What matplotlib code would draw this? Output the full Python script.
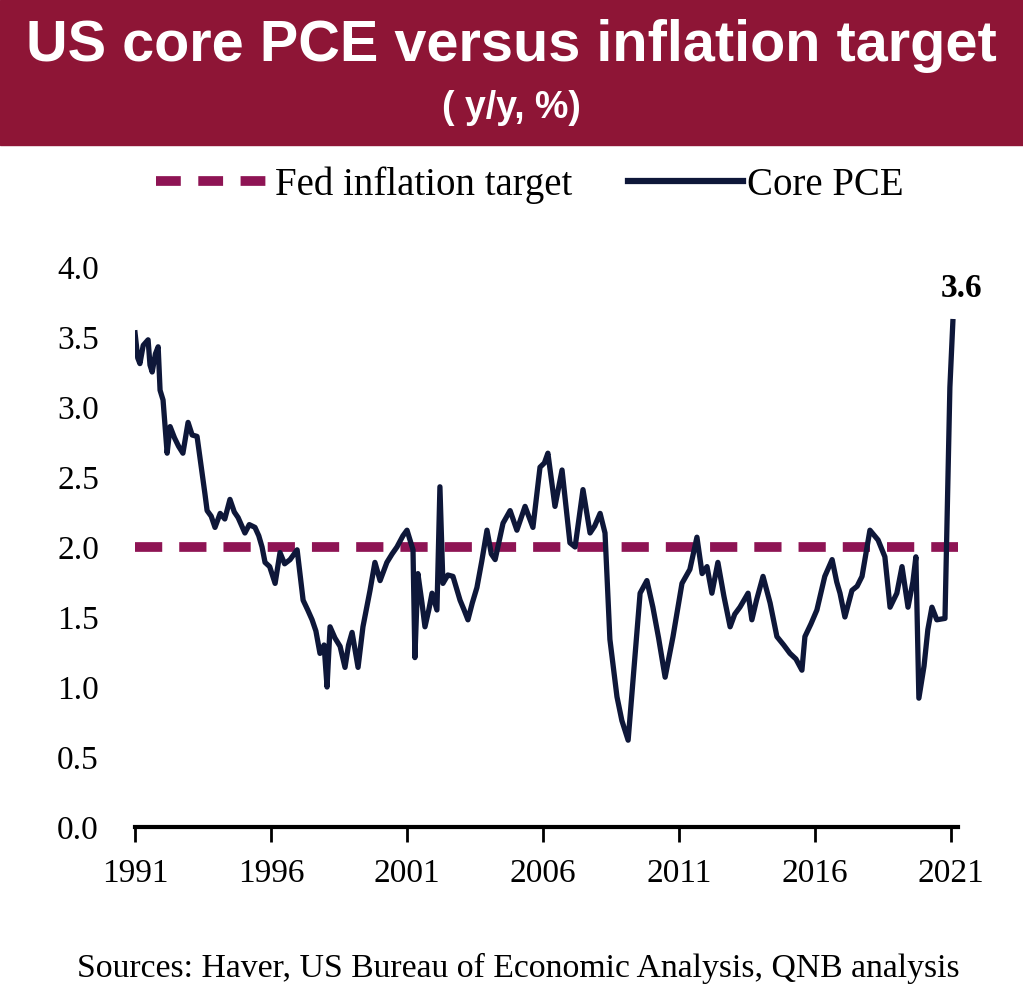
import matplotlib
matplotlib.use("Agg")
import numpy as np
from matplotlib import pyplot as plt
from matplotlib.lines import Line2D
from matplotlib.patches import Rectangle

# Core PCE, y/y %
years = [1991.00, 1991.10, 1991.18, 1991.30, 1991.48, 1991.55, 1991.63, 1991.75, 1991.85, 1991.92,
         1992.03, 1992.18, 1992.29, 1992.45, 1992.60, 1992.76, 1992.95, 1993.10, 1993.28, 1993.45,
         1993.57, 1993.65, 1993.80, 1993.94, 1994.13, 1994.30, 1994.49, 1994.65, 1994.79, 1995.04,
         1995.20, 1995.41, 1995.55, 1995.67, 1995.78, 1995.95, 1996.15, 1996.33, 1996.50, 1996.70,
         1996.96, 1997.18, 1997.35, 1997.51, 1997.65, 1997.80, 1997.95, 1998.06, 1998.17, 1998.35,
         1998.54, 1998.72, 1998.85, 1998.98, 1999.20, 1999.38, 1999.50, 1999.64, 1999.82, 2000.01,
         2000.26, 2000.45, 2000.63, 2000.85, 2001.00, 2001.22, 2001.29, 2001.40, 2001.55, 2001.66,
         2001.80, 2001.92, 2002.10, 2002.21, 2002.32, 2002.50, 2002.69, 2002.95, 2003.10, 2003.24,
         2003.40, 2003.57, 2003.75, 2003.94, 2004.10, 2004.24, 2004.53, 2004.79, 2005.04, 2005.34,
         2005.63, 2005.89, 2006.05, 2006.18, 2006.44, 2006.70, 2006.99, 2007.18, 2007.47, 2007.73,
         2007.90, 2008.10, 2008.28, 2008.46, 2008.72, 2008.90, 2009.13, 2009.31, 2009.57, 2009.82,
         2010.04, 2010.25, 2010.49, 2010.78, 2011.11, 2011.40, 2011.66, 2011.85, 2012.03, 2012.21,
         2012.43, 2012.65, 2012.88, 2013.05, 2013.24, 2013.54, 2013.68, 2013.85, 2014.09, 2014.35,
         2014.60, 2014.85, 2015.08, 2015.30, 2015.52, 2015.63, 2015.85, 2016.07, 2016.36, 2016.63,
         2016.80, 2016.92, 2017.10, 2017.36, 2017.55, 2017.73, 2018.02, 2018.32, 2018.57, 2018.76,
         2019.01, 2019.20, 2019.42, 2019.60, 2019.71, 2019.82, 2020.01, 2020.15, 2020.30, 2020.48,
         2020.78, 2020.89, 2020.96, 2021.07]
core_pce = [3.53, 3.35, 3.31, 3.44, 3.48, 3.30, 3.25, 3.38, 3.43, 3.12,
            3.05, 2.67, 2.86, 2.78, 2.72, 2.67, 2.89, 2.80, 2.79, 2.55,
            2.38, 2.26, 2.22, 2.14, 2.24, 2.20, 2.34, 2.25, 2.21, 2.10,
            2.16, 2.14, 2.08, 2.00, 1.89, 1.86, 1.74, 1.96, 1.88, 1.91,
            1.98, 1.62, 1.55, 1.48, 1.40, 1.24, 1.30, 1.00, 1.43, 1.35,
            1.29, 1.14, 1.30, 1.39, 1.14, 1.43, 1.55, 1.69, 1.89, 1.76,
            1.89, 1.95, 2.00, 2.08, 2.12, 1.98, 1.21, 1.81, 1.60, 1.43,
            1.55, 1.67, 1.55, 2.43, 1.74, 1.80, 1.79, 1.62, 1.55, 1.48,
            1.60, 1.71, 1.90, 2.12, 1.95, 1.91, 2.17, 2.26, 2.12, 2.29,
            2.14, 2.57, 2.60, 2.67, 2.29, 2.55, 2.03, 2.00, 2.41, 2.10,
            2.15, 2.24, 2.10, 1.34, 0.93, 0.76, 0.62, 1.05, 1.67, 1.76,
            1.57, 1.35, 1.07, 1.36, 1.74, 1.84, 2.07, 1.81, 1.86, 1.67,
            1.89, 1.65, 1.43, 1.52, 1.57, 1.67, 1.48, 1.62, 1.79, 1.60,
            1.36, 1.30, 1.24, 1.20, 1.12, 1.36, 1.45, 1.55, 1.79, 1.91,
            1.75, 1.67, 1.50, 1.69, 1.72, 1.79, 2.12, 2.05, 1.93, 1.57,
            1.67, 1.86, 1.57, 1.75, 1.93, 0.92, 1.15, 1.41, 1.57, 1.48,
            1.49, 2.50, 3.14, 3.61]
target = 2.0
xticks = [1991, 1996, 2001, 2006, 2011, 2016, 2021]
yticks = [0.0, 0.5, 1.0, 1.5, 2.0, 2.5, 3.0, 3.5, 4.0]

BAND = "#8E1536"
TARGET_COL = "#8E1454"
LINE_COL = "#0E1739"

plt.rcParams["font.family"] = ["Liberation Serif", "DejaVu Serif"]

fig = plt.figure(figsize=(10.23, 10.0), dpi=100)
fig.patches.append(Rectangle((0, 0.855), 1, 0.145, transform=fig.transFigure,
                             color=BAND, zorder=0))
fig.text(0.5, 0.954, "US core PCE versus inflation target", color="white",
         fontsize=41.5, fontweight="bold", family=["Liberation Sans", "DejaVu Sans"],
         ha="center", va="center")
fig.text(0.5, 0.892, "( y/y, %)", color="white", fontsize=27, fontweight="bold",
         family=["Liberation Sans", "DejaVu Sans"], ha="center", va="center")

ax = fig.add_axes([0.132, 0.173, 0.8045, 0.56])
ax.plot(years, core_pce, color=LINE_COL, lw=3.8, zorder=3)
ax.axhline(target, color=TARGET_COL, lw=7, dashes=(2.8, 1.75), zorder=2)

last_x, last_y = years[-1], core_pce[-1]
ax.annotate(f"{last_y:.1f}", (last_x, last_y), xytext=(6, 24), textcoords="offset points",
            ha="center", va="center", fontsize=24, fontweight="bold", annotation_clip=False)

ax.set_xlim(1991, 2021.26)
ax.set_ylim(0, 4.0)
ax.set_xticks(xticks)
ax.set_yticks(yticks)
ax.set_yticklabels([f"{v:.1f}" for v in yticks])
ax.tick_params(axis="x", length=11, width=2, direction="out", labelsize=24, pad=12)
ax.tick_params(axis="y", length=0, labelsize=24, pad=26)
for side in ["top", "right", "left"]:
    ax.spines[side].set_visible(False)
ax.spines["bottom"].set_linewidth(3)

handles = [Line2D([], [], color=TARGET_COL, lw=7, dashes=(2.55, 1.8)),
           Line2D([], [], color=LINE_COL, lw=4.5)]
fig.legend(handles, ["Fed inflation target", "Core PCE"], loc="center",
           bbox_to_anchor=(0.518, 0.815), ncol=2, frameon=False, fontsize=28,
           handlelength=2.95, handletextpad=0.1, columnspacing=1.45)

fig.text(0.507, 0.032, "Sources: Haver, US Bureau of Economic Analysis, QNB analysis",
         ha="center", va="center", fontsize=24.3)

fig.savefig("out.png", dpi=100)
